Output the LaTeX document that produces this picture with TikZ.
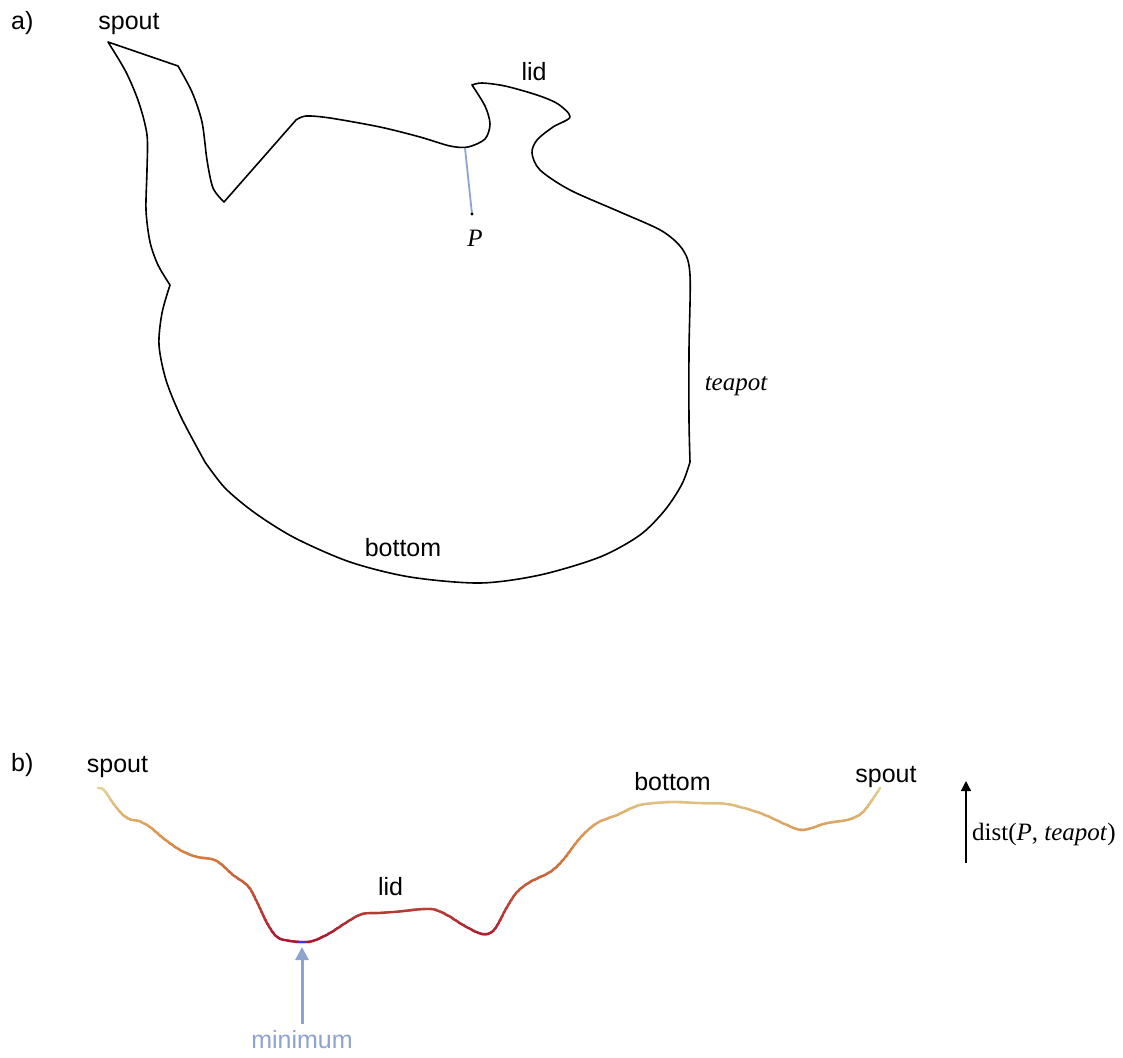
\documentclass[tikz,border=0pt]{standalone}
\usepackage{fontspec}
\setmainfont{Liberation Serif}
\setsansfont{Liberation Sans}
\usetikzlibrary{arrows.meta}

\definecolor{pointer}{HTML}{8FA3CF}
\definecolor{distpale}{HTML}{E2D496}
\definecolor{distorange}{HTML}{D8843F}
\definecolor{distred}{HTML}{A81830}
\definecolor{distmin}{HTML}{2A3AF0}

% distance profile along the outline (spout -> lid -> bottom -> spout)
\newcommand\distcurve[1]{%
  \draw[#1] plot[smooth, tension=0.55] coordinates {
    (98,788) (104,790) (113,803) (123,815) (132,820) (139,821) (150,827)
    (163,838) (180,850) (197,857) (212,859) (221,864) (233,875) (248,886)
    (257,902) (267,923) (277,937) (290,941) (302,942) (313,941) (330,933)
    (347,922) (362,914) (380,913) (393,912) (430,909) (447,915) (463,925)
    (482,934) (494,930) (507,907) (517,892) (530,882) (550,872) (563,860)
    (580,838) (597,823) (617,815) (640,805) (670,802) (700,803) (727,804)
    (760,813) (787,825) (803,830) (827,823) (847,820) (863,812) (880,788)};}

\tikzset{
  outline/.style={draw=black, line width=1.6pt, line join=round},
  sflabel/.style={font=\sffamily\fontsize{25}{30}\selectfont, anchor=base, inner sep=0pt},
  rmlabel/.style={font=\rmfamily\fontsize{25}{30}\selectfont, anchor=base, inner sep=0pt},
}

\begin{document}
\begin{tikzpicture}[x=1pt, y=-1pt]
  \fill[white] (0,0) rectangle (1123,1057);
  \useasboundingbox (0,0) rectangle (1123,1057);

  % ---------- a) the teapot outline ----------
  \draw[outline] (108,42) -- (178,66)
    -- plot[smooth] coordinates {(178,66) (192,92) (202,122) (207,160) (213,188) (224,202)}
    -- (296,120)
    -- plot[smooth] coordinates {(296,120) (306,116) (330,118) (380,127) (420,137)
         (450,146) (468,147) (485,139) (490,124) (485,106) (472,85)}
    -- plot[smooth] coordinates {(472,85) (482,83) (505,86) (537,95) (558,104) (570,117)
         (553,127) (537,140) (532,153) (540,170) (570,190) (620,212) (662,231)
         (683,250) (690,275) (689,350) (689,420) (690,462)}
    -- plot[smooth] coordinates {(690,462) (682,484) (665,510) (640,535) (600,557)
         (540,575) (480,583) (410,577) (350,562) (295,538) (255,513) (225,488) (205,462)}
    -- plot[smooth] coordinates {(205,462) (181,417) (166,380) (159,345) (162,313) (170,285)}
    -- plot[smooth] coordinates {(170,285) (158,265) (150,242) (146,210) (147,170)
         (147,135) (139,103) (126,72) (108,42)}
    -- cycle;

  % query point and its closest point on the outline
  \coordinate (foot) at (465,148);
  \coordinate (P) at (472,214);
  \draw[pointer, line width=1.8pt] (foot) -- (P);
  \fill (P) circle (1.6);

  \node[sflabel, anchor=base west] (tagA) at (11,30) {a)};
  \node[sflabel] (spoutA) at (129,30) {spout};
  \node[sflabel] (lidA) at (534,81) {lid};
  \node[rmlabel, font=\rmfamily\itshape\fontsize{25}{30}\selectfont] (teapotA) at (736,390) {teapot};
  \node[sflabel] (bottomA) at (403,556) {bottom};
  \node[rmlabel, font=\rmfamily\itshape\fontsize{25}{30}\selectfont] (Plabel) at (475,246) {P};

  % ---------- b) distance profile, coloured by height ----------
  \foreach \yb in {780,784,...,948}{
    \pgfmathsetmacro\t{max(0,min(1,(\yb+2-788)/154))}
    \ifdim\t pt<0.4pt
      \pgfmathsetmacro\share{100*\t/0.4}
      \colorlet{bandcol}{distorange!\share!distpale}
    \else
      \pgfmathsetmacro\share{100*(\t-0.4)/0.6}
      \colorlet{bandcol}{distred!\share!distorange}
    \fi
    \begin{scope}
      \clip (0,\yb-0.3) rectangle (1123,\yb+4.3);
      \distcurve{draw=bandcol, line width=2.4pt, line cap=round}
    \end{scope}
  }
  \draw[distmin, line width=2.4pt] (298,942) -- (306,942);

  \node[sflabel, anchor=base west] (tagB) at (11,771) {b)};
  \node[sflabel] (spoutL) at (117.5,772) {spout};
  \node[sflabel] (lidB) at (390.5,895) {lid};
  \node[sflabel] (bottomB) at (672.5,790) {bottom};
  \node[sflabel] (spoutR) at (886,782) {spout};

  % minimum marker
  \coordinate (minbase) at (302,1024);
  \coordinate (mintip) at (302,947);
  \draw[pointer, line width=3pt, -{Triangle[width=13pt,length=13pt]}] (minbase) -- (mintip);
  \node[sflabel, text=pointer] (minlabel) at (302,1048) {minimum};

  % axis arrow
  \coordinate (dbase) at (966,863);
  \coordinate (dtip) at (966,781);
  \draw[line width=1.3pt, -{Triangle[width=10pt,length=10pt]}] (dbase) -- (dtip);
  \node[rmlabel, anchor=base west] (distlabel) at (972,840) {dist(\textit{P}, \textit{teapot})};
\end{tikzpicture}
\end{document}
